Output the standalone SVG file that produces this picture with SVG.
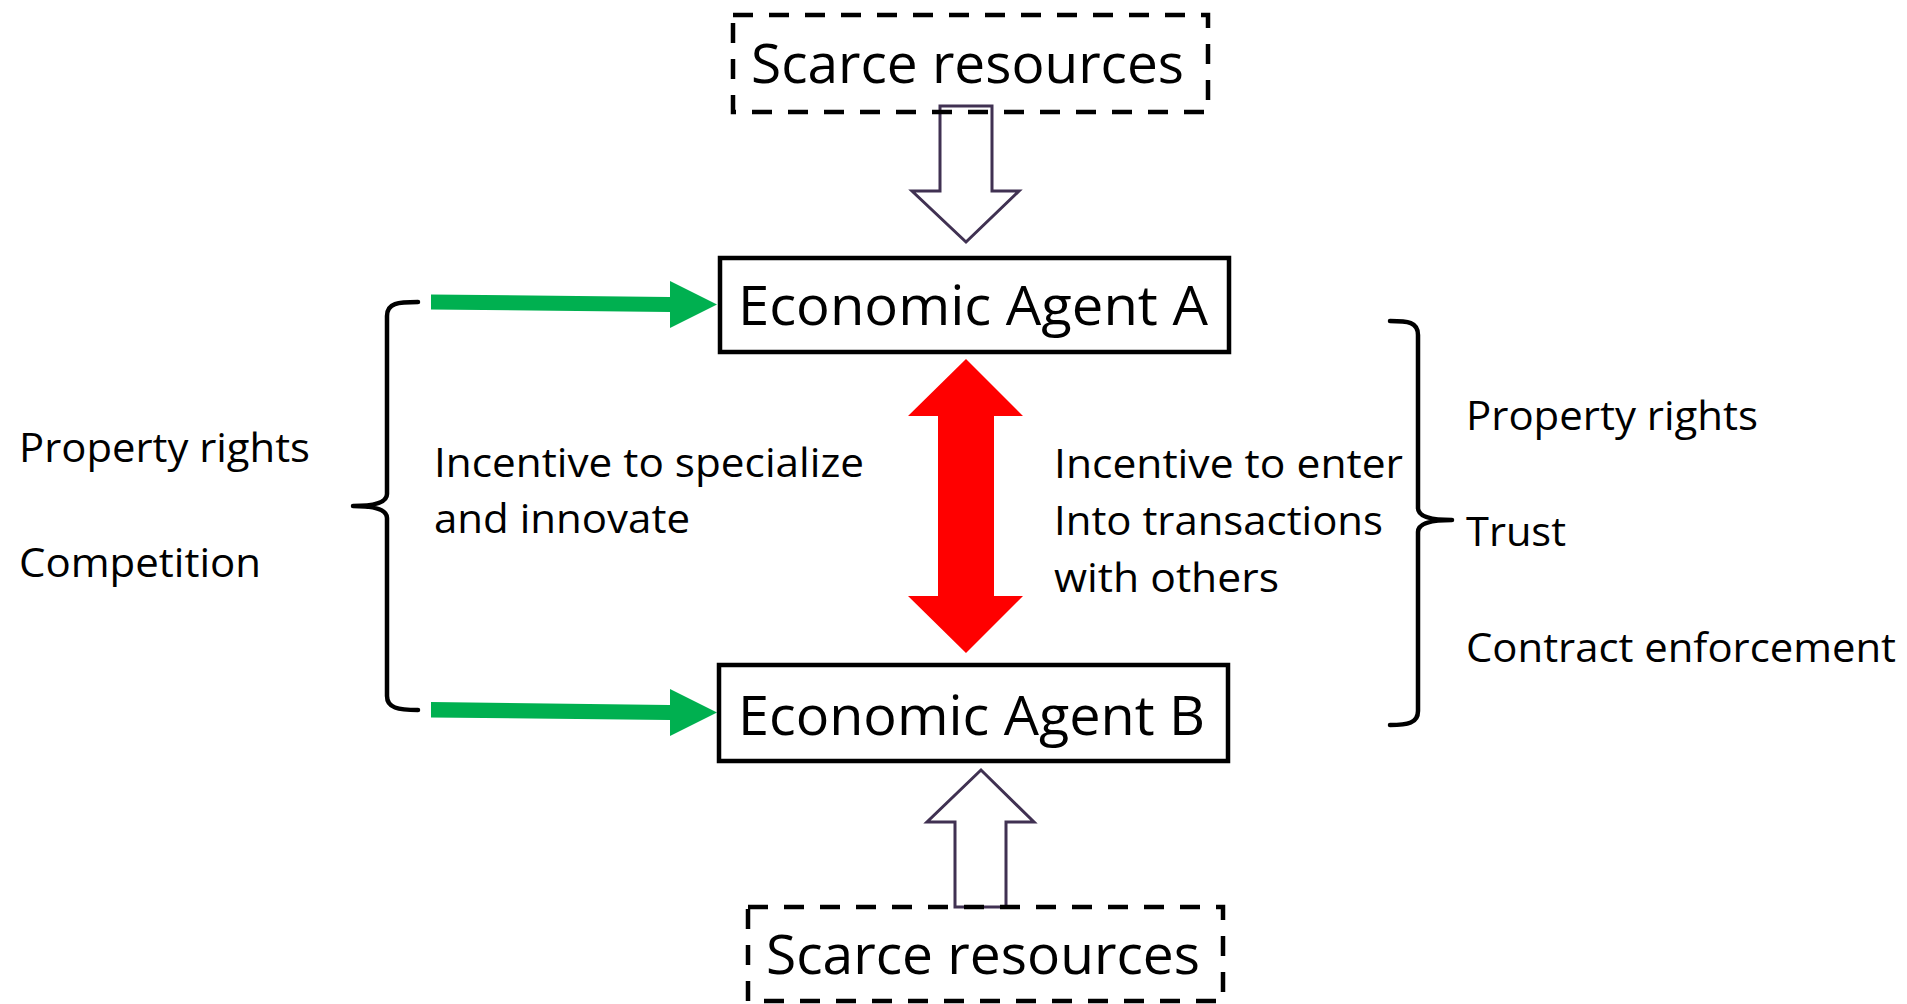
<svg xmlns="http://www.w3.org/2000/svg" width="1907" height="1004" viewBox="0 0 1907 1004">
<style>
  .bg { fill: #ffffff; }
  .t { font-family: "Open Sans", "Noto Sans", "Liberation Sans", sans-serif; fill: #000000; }
  .big { font-size: 55px; }
  .small { font-size: 41px; }
  .box { fill: none; stroke: #000000; stroke-width: 4.5; }
  .dash { fill: none; stroke: #000000; stroke-width: 4.5; stroke-dasharray: 20 16; }
  .hollow { fill: #ffffff; stroke: #403152; stroke-width: 3; stroke-linejoin: miter; }
  .brace { fill: none; stroke: #000000; stroke-width: 4.5; stroke-linecap: round; stroke-linejoin: round; }
  .green { fill: #00B050; }
  .red { fill: #FF0000; }
</style>
<rect class="bg" x="0" y="0" width="1907" height="1004"/>

<g id="connectors">
  <path id="arrow-top" class="hollow" d="M940,106 L992,106 L992,191 L1019,191 L966,242 L912,191 L940,191 Z"/>
  <path id="arrow-bottom" class="hollow" d="M955,907 L1006,907 L1006,822 L1034,822 L981,770 L927,822 L955,822 Z"/>
  <path id="arrow-red" class="red" d="M966,359 L1023,416 L994,416 L994,596 L1023,596 L966,653 L908,596 L938,596 L938,416 L908,416 Z"/>
  <path id="arrow-green-a" class="green" d="M431,294.5 L670,297 L670,281 L717,304.5 L670,328 L670,312 L431,309.5 Z"/>
  <path id="arrow-green-b" class="green" d="M431,702 L670,705 L670,689 L717,712.5 L670,736 L670,720 L431,717.5 Z"/>
  <path id="brace-left" class="brace" d="M418,302 C398,302 387,303 387,316 L387,494 C387,502 376,506 353,506 C376,506 387,510 387,518 L387,696 C387,708 398,710 418,710"/>
  <path id="brace-right" class="brace" d="M1390,321 C1408,321 1418,322 1418,335 L1418,508 C1418,516 1430,520 1452,520 C1430,520 1418,524 1418,532 L1418,711 C1418,723 1408,725 1390,725"/>
</g>

<g id="node-scarce-top">
  <rect class="dash" x="733" y="15" width="475" height="97"/>
  <text class="t big" x="751" y="83" textLength="433" lengthAdjust="spacingAndGlyphs">Scarce resources</text>
</g>

<g id="node-agent-a">
  <rect class="box" x="720" y="258" width="509" height="94"/>
  <text class="t big" x="738" y="325" textLength="470" lengthAdjust="spacingAndGlyphs">Economic Agent A</text>
</g>

<g id="node-agent-b">
  <rect class="box" x="719" y="665" width="509" height="96"/>
  <text class="t big" x="738" y="735" textLength="467" lengthAdjust="spacingAndGlyphs">Economic Agent B</text>
</g>

<g id="node-scarce-bottom">
  <rect class="dash" x="748" y="907" width="475" height="94"/>
  <text class="t big" x="766" y="974" textLength="434" lengthAdjust="spacingAndGlyphs">Scarce resources</text>
</g>

<g id="label-left">
  <text class="t small" x="19" y="462" textLength="291" lengthAdjust="spacingAndGlyphs">Property rights</text>
  <text class="t small" x="19" y="577" textLength="242" lengthAdjust="spacingAndGlyphs">Competition</text>
</g>

<g id="label-specialize">
  <text class="t small" x="434" y="477" textLength="430" lengthAdjust="spacingAndGlyphs">Incentive to specialize</text>
  <text class="t small" x="434" y="533" textLength="256" lengthAdjust="spacingAndGlyphs">and innovate</text>
</g>

<g id="label-transactions">
  <text class="t small" x="1054" y="478" textLength="349" lengthAdjust="spacingAndGlyphs">Incentive to enter</text>
  <text class="t small" x="1054" y="535" textLength="329" lengthAdjust="spacingAndGlyphs">Into transactions</text>
  <text class="t small" x="1054" y="592" textLength="225" lengthAdjust="spacingAndGlyphs">with others</text>
</g>

<g id="label-right">
  <text class="t small" x="1466" y="430" textLength="292" lengthAdjust="spacingAndGlyphs">Property rights</text>
  <text class="t small" x="1466" y="546" textLength="100" lengthAdjust="spacingAndGlyphs">Trust</text>
  <text class="t small" x="1466" y="662" textLength="430" lengthAdjust="spacingAndGlyphs">Contract enforcement</text>
</g>
</svg>
